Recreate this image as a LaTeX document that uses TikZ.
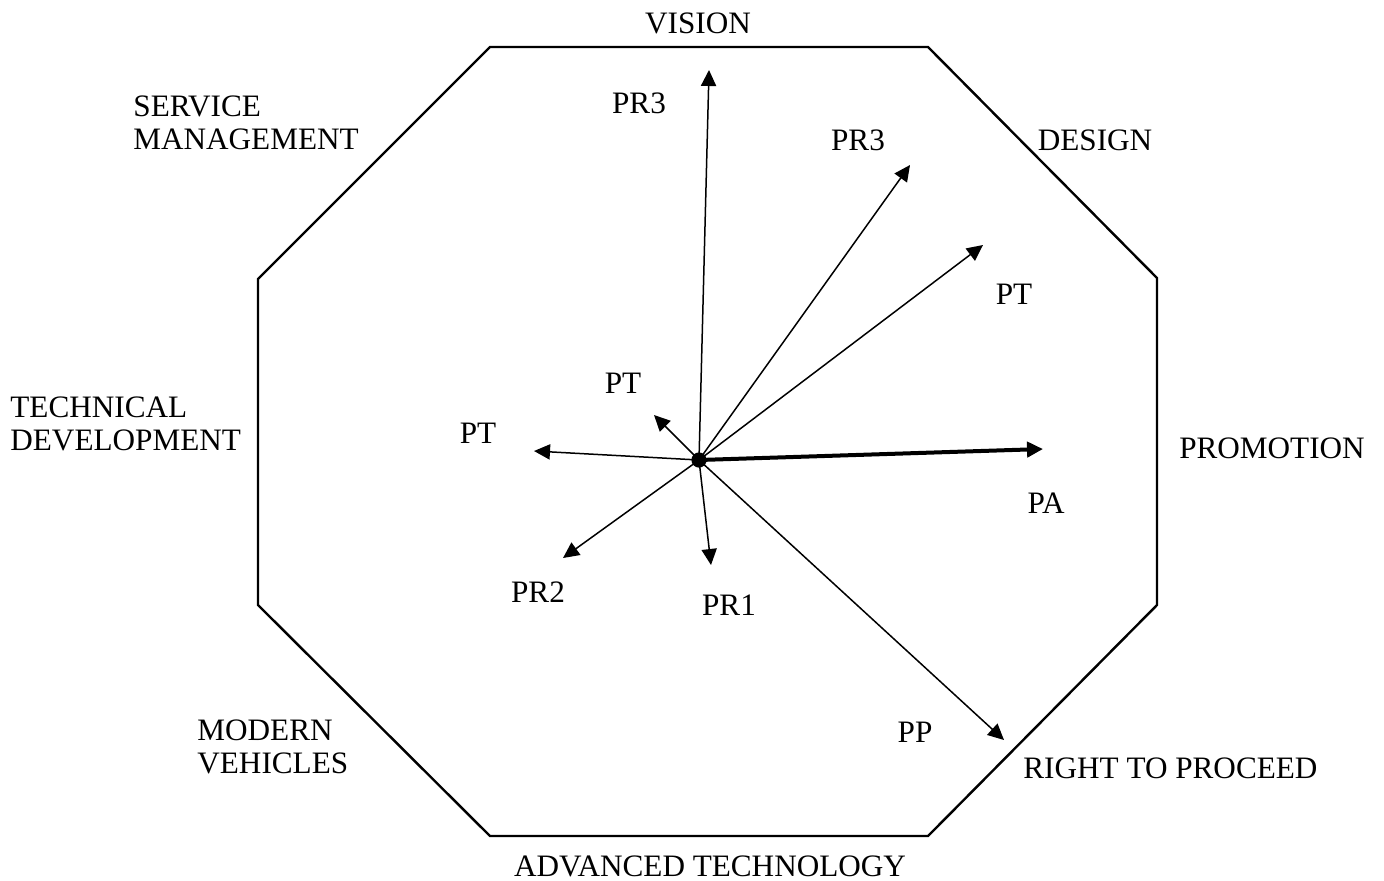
\documentclass[tikz,border=0pt]{standalone}
\usepackage{fontspec}
\setmainfont{Liberation Serif}
\usetikzlibrary{arrows.meta}
\begin{document}
\begin{tikzpicture}[x=0.5pt,y=-0.5pt,
  lbl/.style={font=\fontsize{15.6}{16.5}\selectfont, inner sep=0pt, anchor=base},
  side/.style={lbl, align=left, anchor=base west},
  vec/.style={line width=0.75pt, -{Triangle[length=8pt,width=7.6pt]}},
  bigvec/.style={line width=2pt, -{Triangle[length=8pt,width=7.6pt]}},
  frame/.style={line width=1.2pt, line join=miter}]
\useasboundingbox (0,0) rectangle (1384,880);

% octagon outline
\draw[frame] (490,47) -- (928,47) -- (1157,278) -- (1157,605) -- (928,836)
  -- (490,836) -- (258,605) -- (258,279) -- cycle;

% centre and arrow end points
\coordinate (o) at (699,460);
\coordinate (eVis) at (709,70);
\coordinate (eDes) at (910,165);
\coordinate (ePT) at (983,245);
\coordinate (ePA) at (1043,449);
\coordinate (ePP) at (1004,740);
\coordinate (ePR1) at (711,565);
\coordinate (ePR2) at (563,558);
\coordinate (ePTl) at (534,451);
\coordinate (ePTs) at (654,415);

\draw[vec] (o) -- (eVis);
\draw[vec] (o) -- (eDes);
\draw[vec] (o) -- (ePT);
\draw[bigvec] (o) -- (ePA);
\draw[vec] (o) -- (ePP);
\draw[vec] (o) -- (ePR1);
\draw[vec] (o) -- (ePR2);
\draw[vec] (o) -- (ePTl);
\draw[vec] (o) -- (ePTs);
\fill (o) circle (3.8pt);

% sector names (two-line names are placed by their last baseline)
\node[lbl] (vision) at (698,33) {VISION};
\node[lbl] (design) at (1095,150) {DESIGN};
\node[lbl] (promo) at (1272,458) {PROMOTION};
\node[lbl, anchor=base west] (rtp) at (1023,778) {RIGHT TO PROCEED};
\node[lbl] (adv) at (710,876) {ADVANCED TECHNOLOGY};
\node[side] (modern) at (197,773) {MODERN\\VEHICLES};
\node[side] (tech) at (10,450) {TECHNICAL\\DEVELOPMENT};
\node[side] (serv) at (133,149) {SERVICE\\MANAGEMENT};

% vector labels
\node[lbl] (lPR3a) at (639,113) {PR3};
\node[lbl] (lPR3b) at (858,150) {PR3};
\node[lbl] (lPTr) at (1014,304) {PT};
\node[lbl] (lPTs) at (623,393) {PT};
\node[lbl] (lPTl) at (478,443) {PT};
\node[lbl] (lPA) at (1046,513) {PA};
\node[lbl] (lPP) at (915,742) {PP};
\node[lbl] (lPR2) at (538,602) {PR2};
\node[lbl] (lPR1) at (729,615) {PR1};
\end{tikzpicture}
\end{document}
